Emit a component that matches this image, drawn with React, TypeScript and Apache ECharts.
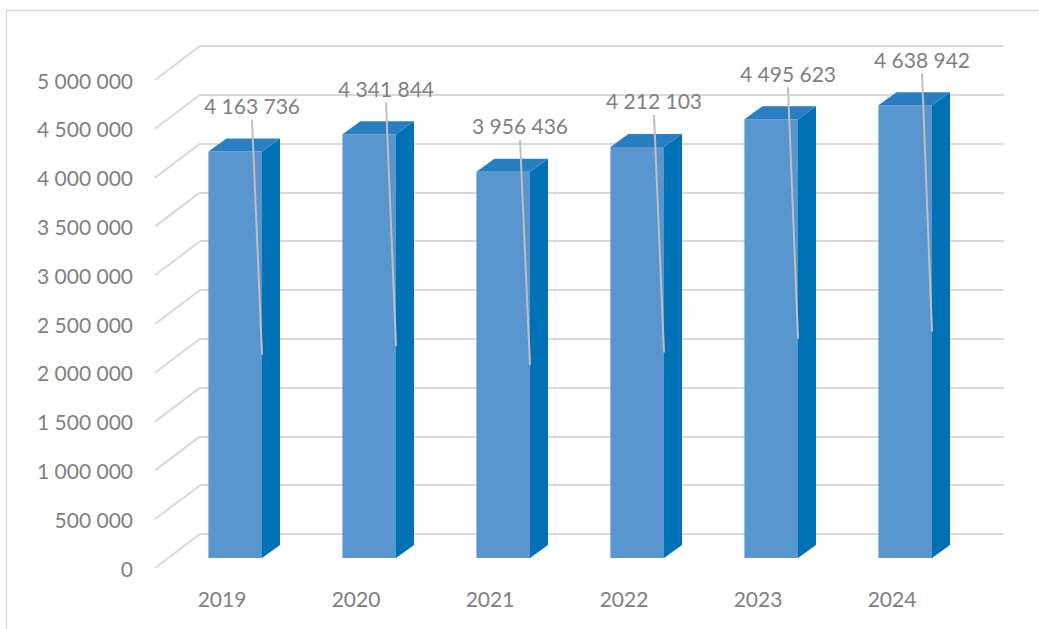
import React, { useEffect, useRef } from "react";
import * as echarts from "echarts";

const years = ["2019", "2020", "2021", "2022", "2023", "2024"];
const values = [4163736, 4341844, 3956436, 4212103, 4495623, 4638942];
const yTicks = [0, 500000, 1000000, 1500000, 2000000, 2500000, 3000000, 3500000, 4000000, 4500000, 5000000];

const FONT = "Lato";
const TEXT = "#808080";
const GRID = "#d9d9d9";
// oblique projection offsets
const FLOOR_DX = 45;
const FLOOR_DY = 34;
const BAR_SHIFT_X = 31.8;
const BAR_SHIFT_Y = 24;
const BAR_DEPTH_X = 18;
const BAR_DEPTH_Y = 13;

const fmt = (v: number) => String(v).replace(/\B(?=(\d{3})+(?!\d))/g, " ");

export default function App() {
  const ref = useRef<HTMLDivElement>(null);
  useEffect(() => {
    if (!ref.current) return;
    const chart = echarts.init(ref.current, null, { renderer: "svg" });
    const option: any = {
      animation: false,
      backgroundColor: "#ffffff",
      textStyle: { fontFamily: FONT },
      graphic: [
        {
          type: "rect",
          shape: { x: 6.5, y: 10.5, width: 1100, height: 700 },
          style: { fill: "none", stroke: "#d9d9d9", lineWidth: 1.5 },
          silent: true,
        },
      ],
      grid: [
        { left: 200, right: 35, top: 46, bottom: 95 },
        { left: 155, right: 80, top: 80, bottom: 61 },
      ],
      xAxis: [
        {
          type: "category",
          gridIndex: 0,
          data: years,
          axisLabel: { show: false },
          axisLine: { show: false },
          axisTick: { show: false },
        },
        {
          type: "category",
          gridIndex: 1,
          data: years,
          axisLabel: { color: TEXT, fontSize: 21, fontFamily: FONT, margin: 20 },
          axisLine: { show: false },
          axisTick: { show: false },
        },
      ],
      yAxis: [
        {
          type: "value",
          gridIndex: 0,
          min: 0,
          max: 5000000,
          interval: 500000,
          axisLabel: { show: false },
          axisLine: { show: false },
          axisTick: { show: false },
          splitLine: { lineStyle: { color: GRID, width: 2 } },
        },
        {
          type: "value",
          gridIndex: 1,
          min: 0,
          max: 5000000,
          interval: 500000,
          axisLabel: {
            color: TEXT,
            fontSize: 21,
            fontFamily: FONT,
            margin: 22,
            formatter: (v: number) => fmt(v),
          },
          axisLine: { show: false },
          axisTick: { show: false },
          splitLine: { show: false },
        },
      ],
      series: [
        {
          type: "custom",
          name: "floor",
          xAxisIndex: 0,
          yAxisIndex: 0,
          clip: false,
          silent: true,
          data: yTicks.map((v) => [0, v]),
          encode: { x: 0, y: 1 },
          renderItem: (params: any, api: any) => {
            const p = api.coord([0, api.value(1)]);
            const x0 = params.coordSys.x;
            return {
              type: "line",
              shape: { x1: x0 - FLOOR_DX, y1: p[1] + FLOOR_DY, x2: x0, y2: p[1] },
              style: { stroke: GRID, lineWidth: 2 },
            };
          },
        },
        {
          type: "custom",
          name: "bars",
          xAxisIndex: 0,
          yAxisIndex: 0,
          clip: false,
          data: values.map((v, i) => [i, v]),
          encode: { x: 0, y: 1 },
          renderItem: (params: any, api: any) => {
            const i = api.value(0);
            const v = api.value(1);
            const top = api.coord([i, v]);
            const base = api.coord([i, 0]);
            const mid = api.coord([i, v / 2]);
            const band = api.size([1, 0])[0];
            const w = band * 0.4;
            const cx = top[0] - BAR_SHIFT_X;
            const fx = cx - w / 2;
            const fr = cx + w / 2;
            const ty = top[1] + BAR_SHIFT_Y;
            const by = base[1] + BAR_SHIFT_Y;
            const my = mid[1] + BAR_SHIFT_Y;
            const lx = fr - 10;
            const ly = ty - 46;
            return {
              type: "group",
              children: [
                {
                  type: "rect",
                  shape: { x: fx, y: ty, width: w, height: by - ty },
                  style: { fill: "#5995cf" },
                },
                {
                  type: "polygon",
                  shape: {
                    points: [
                      [fr, ty],
                      [fr + BAR_DEPTH_X, ty - BAR_DEPTH_Y],
                      [fr + BAR_DEPTH_X, by - BAR_DEPTH_Y],
                      [fr, by],
                    ],
                  },
                  style: { fill: "#0171b6" },
                },
                {
                  type: "polygon",
                  shape: {
                    points: [
                      [fx, ty],
                      [fx + BAR_DEPTH_X, ty - BAR_DEPTH_Y],
                      [fr + BAR_DEPTH_X, ty - BAR_DEPTH_Y],
                      [fr, ty],
                    ],
                  },
                  style: { fill: "#2a7ec2" },
                },
                {
                  type: "line",
                  shape: { x1: lx, y1: ly + 14, x2: fr, y2: my },
                  style: { stroke: "#bfbfbf", lineWidth: 2 },
                },
                {
                  type: "text",
                  x: lx,
                  y: ly,
                  style: {
                    text: fmt(v),
                    fill: TEXT,
                    font: `21px ${FONT}`,
                    align: "center",
                    verticalAlign: "middle",
                  },
                },
              ],
            };
          },
        },
      ],
    };
    chart.setOption(option);
    return () => chart.dispose();
  }, []);
  return (
    <div
      ref={ref}
      style={{ position: "fixed", left: 0, top: 0, width: 1039, height: 629 }}
    />
  );
}
